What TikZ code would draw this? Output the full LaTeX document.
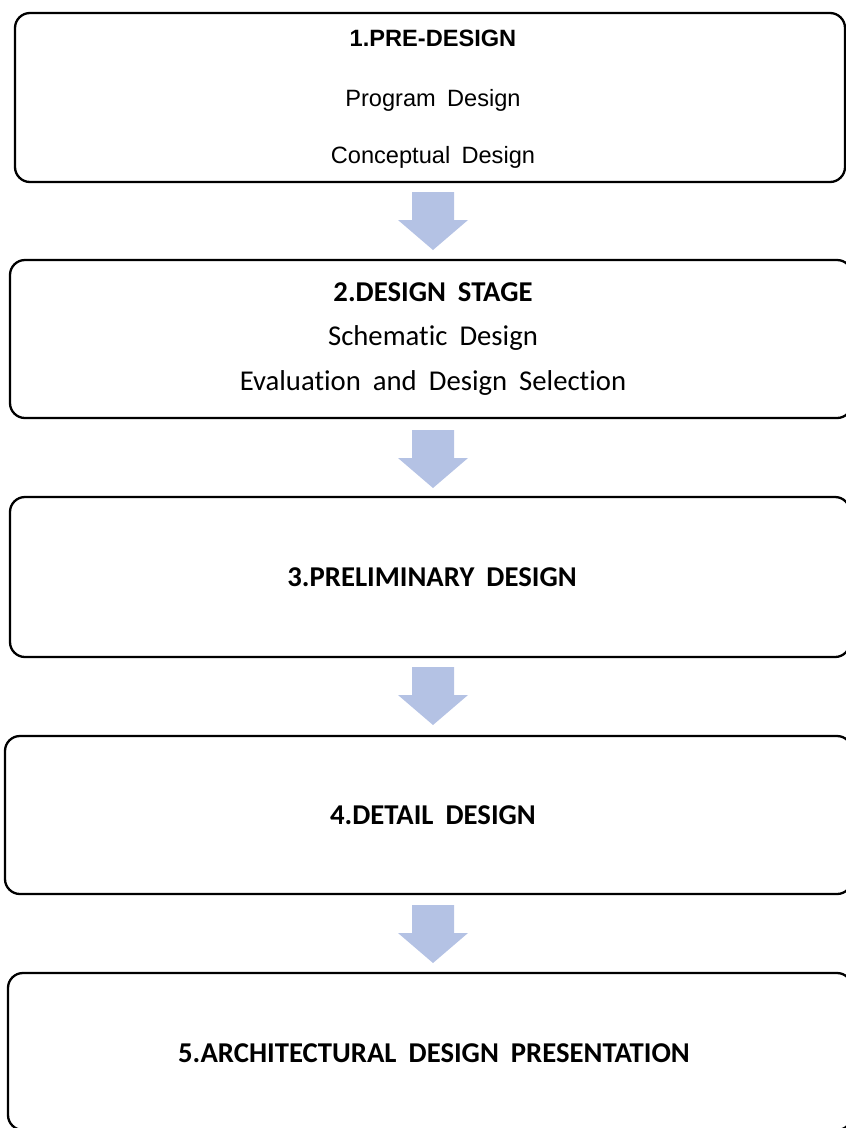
\documentclass[tikz,border=0pt]{standalone}
\usepackage{fontspec}
\newfontfamily\arialf{Liberation Sans}
\newfontfamily\calf[Ligatures=NoCommon]{Carlito}
\definecolor{arrowblue}{RGB}{180,194,228}
\newcommand{\ws}{\hspace{0.48em}}
\newcommand{\wc}{\hspace{0.42em}}
\begin{document}
\begin{tikzpicture}[x=1pt,y=-1pt,
  stagebox/.style={draw=black,line width=2.3pt,rounded corners=15pt,fill=white},
  arialtxt/.style={font=\arialf\fontsize{23.6}{28}\selectfont,inner sep=0pt,anchor=center},
  caltxt/.style={font=\calf\fontsize{28.7}{34}\selectfont,inner sep=0pt,anchor=center},
  blockarrow/.style={fill=arrowblue,draw=none}]
\useasboundingbox (0,0) rectangle (846,1128);
\clip (0,0) rectangle (846,1128);
% boxes
\draw[stagebox] (15,13) rectangle (845,182);
\draw[stagebox] (10,260) rectangle (852,418);
\draw[stagebox] (10,497) rectangle (850,657);
\draw[stagebox] (5,736) rectangle (852,894);
\draw[stagebox] (8,973) rectangle (852,1130);
% box 1 text
\node[arialtxt] (t1) at (433,38) {\bfseries 1.PRE-DESIGN};
\node[arialtxt] (t1a) at (433,100) {Program\ws Design};
\node[arialtxt] (t1b) at (433,157) {Conceptual\ws Design};
% box 2 text
\node[caltxt] (t2) at (433,292) {\bfseries 2.DESIGN\wc STAGE};
\node[caltxt] (t2a) at (433,338) {Schematic\wc Design};
\node[caltxt] (t2b) at (433,383) {Evaluation\wc and\wc Design\wc Selection};
% box 3-5 text
\node[caltxt] (t3) at (432,577) {\bfseries 3.PRELIMINARY\wc DESIGN};
\node[caltxt] (t4) at (433,815) {\bfseries 4.DETAIL\wc DESIGN};
\node[caltxt] (t5) at (434,1053) {\bfseries 5.ARCHITECTURAL\wc DESIGN\wc PRESENTATION};
% arrows
\foreach \y in {192,430,667,905}{
  \fill[blockarrow] (412,\y) -- (454,\y) -- (454,\y+28) -- (468,\y+28)
     -- (433,\y+58) -- (398,\y+28) -- (412,\y+28) -- cycle;
}
\end{tikzpicture}
\end{document}
